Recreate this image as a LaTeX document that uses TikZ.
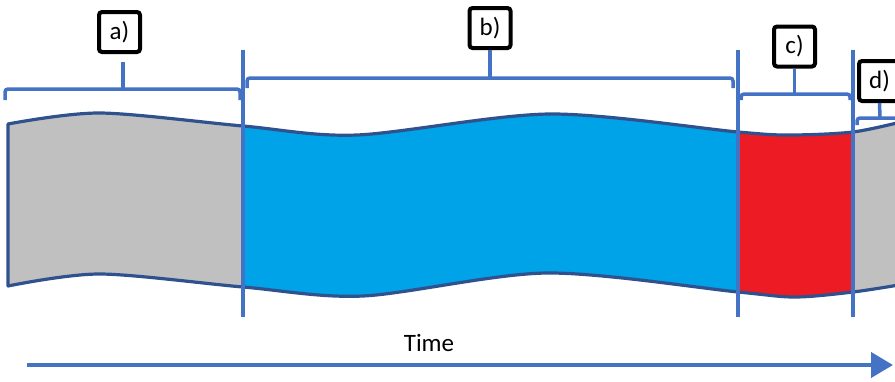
\documentclass[tikz,border=0pt]{standalone}
\usepackage{fontspec}
\setmainfont{Carlito}
\usetikzlibrary{arrows.meta}
\definecolor{ribgrey}{RGB}{192,192,192}
\definecolor{ribblue}{RGB}{0,162,232}
\definecolor{ribred}{RGB}{237,28,36}
\definecolor{outl}{RGB}{47,82,143}
\definecolor{accent}{RGB}{68,114,196}
\begin{document}
\begin{tikzpicture}[x=1pt,y=-1pt,
  labelbox/.style={draw=black, line width=4pt, rounded corners=3pt, minimum width=41pt, minimum height=40pt, inner sep=0pt, fill=white, font=\fontsize{25}{30}\selectfont},
  brace/.style={draw=accent, line width=3.5pt, rounded corners=3pt},
  divider/.style={draw=accent, line width=3.5pt},
  ribbonline/.style={draw=outl, line width=3.2pt, line join=round}]
\useasboundingbox (0,0) rectangle (895,381);
\clip (0,0) rectangle (895,381);

% ribbon fills
\begin{scope}
\clip plot[smooth] coordinates {(8,124) (100,113) (243,126) (357,135) (550,114) (738,132) (790,135) (853,132) (905,121)}
  -- plot[smooth] coordinates {(905,284) (853,292) (795,297) (738,292) (547,273) (363,296) (243,287) (100,274) (8,286)} -- cycle;
\fill[ribgrey] (0,0) rectangle (243,381);
\fill[ribblue] (243,0) rectangle (738,381);
\fill[ribred] (738,0) rectangle (853,381);
\fill[ribgrey] (853,0) rectangle (910,381);
\end{scope}
% ribbon outline
\draw[ribbonline] plot[smooth] coordinates {(905,121) (853,132) (790,135) (738,132) (550,114) (357,135) (243,126) (100,113) (8,124)}
  -- plot[smooth] coordinates {(8,286) (100,274) (243,287) (363,296) (547,273) (738,292) (795,297) (853,292) (905,284)};

% dividers
\coordinate (v1t) at (243,50); \coordinate (v1b) at (243,317);
\coordinate (v2t) at (738,50); \coordinate (v2b) at (738,317);
\coordinate (v3t) at (853,50); \coordinate (v3b) at (853,317);
\draw[divider] (v1t) -- (v1b);
\draw[divider] (v2t) -- (v2b);
\draw[divider] (v3t) -- (v3b);

% label boxes
\node[labelbox] (boxa) at (119.5,32) {a)};
\node[labelbox] (boxb) at (490,28) {b)};
\node[labelbox] (boxc) at (794.5,46.5) {c)};
\node[labelbox] (boxd) at (879.5,81) {d)};

% braces
\coordinate (ba1) at (5,100); \coordinate (ba2) at (5,89); \coordinate (ba3) at (240,89); \coordinate (ba4) at (240,100);
\coordinate (bam) at (123,89); \coordinate (bas) at (123,62);
\draw[brace] (ba1) -- (ba2) -- (ba3) -- (ba4);
\draw[divider] (bas) -- (bam);

\coordinate (bb1) at (247,88); \coordinate (bb2) at (247,78); \coordinate (bb3) at (733,78); \coordinate (bb4) at (733,88);
\coordinate (bbm) at (490,78);
\draw[brace] (bb1) -- (bb2) -- (bb3) -- (bb4);
\draw[divider] (boxb.south) -- (bbm);

\coordinate (bc1) at (741,100); \coordinate (bc2) at (741,94); \coordinate (bc3) at (850,94); \coordinate (bc4) at (850,100);
\coordinate (bcm) at (794.5,94);
\draw[brace] (bc1) -- (bc2) -- (bc3) -- (bc4);
\draw[divider] (boxc.south) -- (bcm);

\coordinate (bd1) at (857,125); \coordinate (bd2) at (857,118); \coordinate (bd3) at (905,118);
\coordinate (bdm) at (880,118);
\draw[brace] (bd1) -- (bd2) -- (bd3);
\draw[divider] (boxd.south) -- (bdm);

% time arrow
\coordinate (tstart) at (27,365); \coordinate (tend) at (893,365);
\draw[accent, line width=4pt, -{Triangle[length=22pt,width=25pt]}] (tstart) -- (tend);
\node[font=\fontsize{25}{30}\selectfont] (time) at (429,343) {Time};
\end{tikzpicture}
\end{document}
